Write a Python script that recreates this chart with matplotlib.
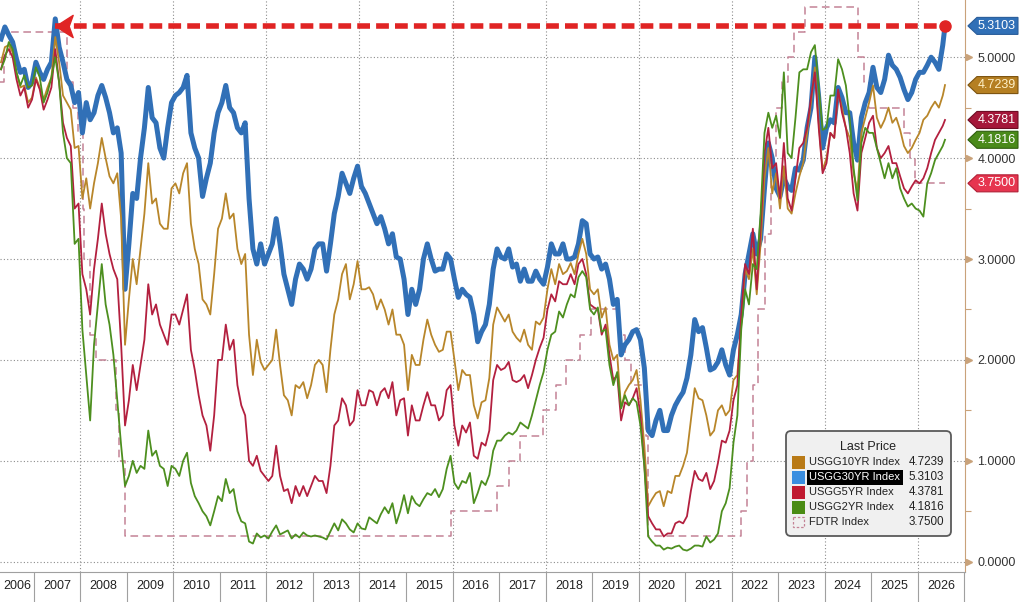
"""
Treasuries (2Y, 5Y, 10Y, 30Y) e Fed Funds (FDTR) - estilo terminal Bloomberg.
"""

import matplotlib
matplotlib.use("Agg")
import matplotlib.pyplot as plt
from matplotlib.patches import Polygon, FancyBboxPatch, Rectangle
from matplotlib.path import Path
from matplotlib.transforms import Affine2D, offset_copy
import numpy as np

plt.rcParams["font.family"] = ["Liberation Sans", "DejaVu Sans"]

# ── Dados (médias mensais, abr/2006 .. jul/2026, + último preço) ─────────────
first_month = 2006 + 3 / 12
last_date = 2026.59

usgg30 = [
    5.18, 5.30, 5.22, 5.15, 4.98, 4.85, 4.88, 4.70, 4.75,                # 2006
    4.95, 4.85, 4.78, 4.88, 4.95, 5.38, 5.10, 4.95, 4.78, 4.72, 4.55, 4.65,
    4.25, 4.55, 4.38, 4.45, 4.62, 4.72, 4.60, 4.45, 4.25, 4.30, 4.05, 2.70,
    3.15, 3.65, 3.60, 4.00, 4.30, 4.70, 4.40, 4.35, 4.10, 4.00, 4.30, 4.55,
    4.62, 4.65, 4.70, 4.82, 4.25, 4.10, 4.00, 3.62, 3.80, 3.95, 4.25, 4.45,
    4.55, 4.72, 4.50, 4.45, 4.30, 4.25, 4.35, 3.60, 3.10, 2.95, 3.15, 2.95,
    3.05, 3.15, 3.40, 3.15, 2.85, 2.70, 2.55, 2.80, 2.95, 2.90, 2.80, 2.90,
    3.10, 3.15, 3.15, 2.88, 3.15, 3.45, 3.62, 3.85, 3.75, 3.65, 3.80, 3.92,
    3.72, 3.65, 3.55, 3.45, 3.35, 3.42, 3.30, 3.15, 3.25, 3.02, 3.00, 2.80,
    2.45, 2.70, 2.55, 2.70, 3.00, 3.15, 3.00, 2.88, 2.90, 2.90, 3.05, 3.00,
    2.80, 2.62, 2.70, 2.65, 2.62, 2.45, 2.18, 2.28, 2.35, 2.55, 2.90, 3.10,
    3.02, 3.00, 3.10, 2.92, 2.95, 2.78, 2.90, 2.78, 2.78, 2.88, 2.80, 2.75,
    2.92, 3.15, 3.05, 3.05, 3.15, 3.00, 3.00, 3.02, 3.15, 3.38, 3.35, 3.05,
    3.00, 3.02, 2.90, 2.95, 2.80, 2.55, 2.60, 2.05, 2.15, 2.20, 2.28, 2.30,
    2.20, 1.92, 1.30, 1.25, 1.40, 1.50, 1.30, 1.30, 1.45, 1.55, 1.62, 1.68,
    1.82, 2.05, 2.40, 2.28, 2.32, 2.12, 1.90, 1.92, 1.98, 2.10, 1.95, 1.85,
    2.10, 2.25, 2.45, 2.85, 3.05, 3.25, 3.05, 3.20, 3.70, 4.15, 4.00, 3.70,
    3.62, 3.80, 3.72, 3.68, 3.90, 3.88, 3.98, 4.30, 4.50, 5.00, 4.60, 4.10,
    4.30, 4.38, 4.35, 4.70, 4.60, 4.45, 4.45, 4.15, 3.98, 4.40, 4.55, 4.65,
    4.90, 4.70, 4.65, 4.78, 5.02, 4.92, 4.88, 4.80, 4.68, 4.58, 4.65, 4.78,
    4.85, 4.85, 4.92, 5.00, 4.95, 4.88, 5.12,                            # 2026
    5.3103,
]

usgg10 = [
    4.95, 5.10, 5.12, 5.05, 4.85, 4.70, 4.72, 4.55, 4.60,
    4.80, 4.70, 4.58, 4.70, 4.80, 5.20, 4.95, 4.62, 4.55, 4.48, 4.10, 4.12,
    3.60, 3.80, 3.50, 3.75, 3.95, 4.20, 4.00, 3.82, 3.75, 3.85, 3.40, 2.15,
    2.60, 3.00, 2.75, 3.10, 3.45, 3.95, 3.55, 3.60, 3.35, 3.30, 3.30, 3.70,
    3.75, 3.65, 3.85, 3.95, 3.35, 3.10, 2.95, 2.60, 2.55, 2.45, 2.85, 3.30,
    3.40, 3.65, 3.40, 3.45, 3.10, 2.95, 3.05, 2.25, 1.85, 2.20, 1.98, 1.90,
    1.95, 2.00, 2.30, 1.95, 1.65, 1.60, 1.45, 1.75, 1.72, 1.78, 1.62, 1.75,
    1.95, 2.00, 1.95, 1.68, 2.10, 2.45, 2.60, 2.85, 2.95, 2.60, 2.75, 2.98,
    2.70, 2.70, 2.72, 2.65, 2.50, 2.60, 2.50, 2.35, 2.50, 2.25, 2.25, 2.15,
    1.70, 2.05, 1.95, 1.95, 2.20, 2.40, 2.25, 2.15, 2.08, 2.10, 2.28, 2.28,
    2.00, 1.70, 1.90, 1.85, 1.85, 1.55, 1.42, 1.58, 1.60, 1.82, 2.35, 2.52,
    2.45, 2.38, 2.45, 2.28, 2.22, 2.18, 2.30, 2.15, 2.10, 2.38, 2.35, 2.42,
    2.70, 2.90, 2.75, 2.95, 2.85, 2.88, 2.96, 2.85, 3.05, 3.20, 3.05, 2.70,
    2.65, 2.70, 2.42, 2.52, 2.15, 2.00, 2.05, 1.52, 1.68, 1.75, 1.80, 1.90,
    1.60, 1.15, 0.55, 0.62, 0.68, 0.70, 0.55, 0.70, 0.68, 0.85, 0.85, 0.95,
    1.08, 1.40, 1.72, 1.62, 1.60, 1.45, 1.25, 1.30, 1.50, 1.55, 1.45, 1.50,
    1.80, 1.85, 2.35, 2.90, 2.80, 3.10, 2.65, 3.15, 3.80, 4.10, 3.65, 3.85,
    3.50, 3.92, 3.50, 3.45, 3.65, 3.82, 3.95, 4.25, 4.55, 4.90, 4.35, 3.88,
    4.00, 4.25, 4.20, 4.65, 4.50, 4.30, 4.20, 3.85, 3.68, 4.25, 4.40, 4.55,
    4.72, 4.40, 4.30, 4.38, 4.50, 4.35, 4.40, 4.28, 4.12, 4.05, 4.10, 4.18,
    4.25, 4.38, 4.42, 4.50, 4.56, 4.50, 4.62,
    4.7239,
]

usgg5 = [
    4.88, 5.02, 5.08, 5.00, 4.78, 4.62, 4.70, 4.50, 4.58,
    4.78, 4.68, 4.48, 4.58, 4.70, 5.08, 4.75, 4.35, 4.20, 4.12, 3.50, 3.55,
    2.85, 2.70, 2.45, 2.90, 3.20, 3.55, 3.25, 3.05, 2.90, 2.80, 2.15, 1.35,
    1.60, 1.95, 1.70, 1.95, 2.20, 2.75, 2.45, 2.55, 2.35, 2.25, 2.15, 2.45,
    2.45, 2.35, 2.50, 2.65, 2.10, 1.90, 1.65, 1.45, 1.35, 1.10, 1.45, 2.00,
    2.00, 2.35, 2.10, 2.20, 1.75, 1.55, 1.45, 1.00, 0.95, 1.05, 0.90, 0.85,
    0.80, 0.85, 1.15, 0.85, 0.70, 0.72, 0.58, 0.75, 0.65, 0.75, 0.65, 0.75,
    0.85, 0.80, 0.80, 0.68, 0.95, 1.35, 1.40, 1.62, 1.55, 1.35, 1.40, 1.70,
    1.55, 1.55, 1.70, 1.68, 1.55, 1.68, 1.72, 1.62, 1.78, 1.45, 1.60, 1.62,
    1.25, 1.55, 1.40, 1.40, 1.55, 1.68, 1.55, 1.55, 1.40, 1.45, 1.70, 1.75,
    1.35, 1.15, 1.35, 1.28, 1.38, 1.05, 1.02, 1.18, 1.15, 1.30, 1.80, 1.95,
    1.90, 1.92, 1.98, 1.80, 1.78, 1.80, 1.85, 1.72, 1.85, 2.00, 2.12, 2.22,
    2.50, 2.65, 2.58, 2.78, 2.75, 2.75, 2.85, 2.75, 2.95, 3.00, 2.85, 2.55,
    2.52, 2.50, 2.25, 2.35, 2.05, 1.80, 1.85, 1.40, 1.58, 1.55, 1.62, 1.72,
    1.45, 0.95, 0.45, 0.38, 0.32, 0.32, 0.25, 0.28, 0.28, 0.38, 0.40, 0.38,
    0.45, 0.70, 0.90, 0.82, 0.80, 0.88, 0.72, 0.80, 0.98, 1.20, 1.18, 1.30,
    1.60, 1.75, 2.45, 2.95, 2.85, 3.30, 2.70, 3.30, 4.05, 4.30, 3.90, 3.95,
    3.60, 4.15, 3.60, 3.48, 3.80, 4.10, 4.15, 4.30, 4.60, 4.85, 4.30, 3.85,
    3.95, 4.25, 4.20, 4.68, 4.45, 4.30, 4.05, 3.65, 3.48, 4.05, 4.20, 4.35,
    4.42, 4.10, 4.00, 4.05, 4.12, 3.95, 3.95, 3.82, 3.70, 3.65, 3.72, 3.78,
    3.75, 3.80, 3.90, 4.05, 4.18, 4.25, 4.32,
    4.3781,
]

usgg2 = [
    4.88, 4.98, 5.15, 5.08, 4.85, 4.72, 4.82, 4.70, 4.72,
    4.90, 4.80, 4.55, 4.65, 4.80, 5.00, 4.75, 4.25, 4.00, 3.95, 3.15, 3.20,
    2.30, 1.85, 1.40, 2.15, 2.55, 2.95, 2.55, 2.35, 2.05, 1.60, 1.15, 0.75,
    0.85, 1.00, 0.88, 0.95, 0.92, 1.30, 1.05, 1.10, 0.95, 0.92, 0.75, 0.95,
    0.92, 0.85, 1.00, 1.08, 0.78, 0.65, 0.58, 0.50, 0.45, 0.36, 0.50, 0.65,
    0.60, 0.82, 0.68, 0.72, 0.50, 0.40, 0.38, 0.20, 0.18, 0.28, 0.24, 0.26,
    0.23, 0.30, 0.36, 0.27, 0.29, 0.31, 0.23, 0.27, 0.24, 0.29, 0.26, 0.25,
    0.26, 0.25, 0.24, 0.22, 0.30, 0.38, 0.31, 0.42, 0.38, 0.32, 0.29, 0.38,
    0.33, 0.32, 0.44, 0.41, 0.38, 0.47, 0.54, 0.48, 0.58, 0.38, 0.50, 0.66,
    0.48, 0.65, 0.58, 0.55, 0.62, 0.68, 0.66, 0.72, 0.64, 0.72, 0.92, 1.05,
    0.78, 0.72, 0.80, 0.78, 0.88, 0.58, 0.68, 0.80, 0.76, 0.86, 1.10, 1.20,
    1.20, 1.25, 1.28, 1.26, 1.30, 1.38, 1.35, 1.32, 1.45, 1.60, 1.75, 1.88,
    2.10, 2.25, 2.28, 2.48, 2.42, 2.55, 2.65, 2.62, 2.82, 2.88, 2.82, 2.50,
    2.45, 2.52, 2.28, 2.30, 1.95, 1.75, 1.88, 1.52, 1.65, 1.55, 1.62, 1.58,
    1.35, 0.95, 0.25, 0.20, 0.16, 0.16, 0.12, 0.14, 0.13, 0.15, 0.16, 0.12,
    0.11, 0.13, 0.16, 0.16, 0.15, 0.25, 0.19, 0.22, 0.28, 0.50, 0.58, 0.73,
    1.18, 1.45, 2.30, 2.70, 2.55, 2.95, 2.90, 3.45, 4.25, 4.45, 4.30, 4.42,
    4.20, 4.85, 4.05, 4.00, 4.40, 4.85, 4.88, 4.88, 5.05, 5.12, 4.70, 4.28,
    4.30, 4.62, 4.62, 4.98, 4.88, 4.72, 4.38, 3.90, 3.58, 4.15, 4.30, 4.25,
    4.25, 4.10, 3.95, 3.80, 3.95, 3.80, 3.90, 3.70, 3.60, 3.52, 3.55, 3.50,
    3.48, 3.42, 3.75, 3.85, 3.98, 4.05, 4.12,
    4.1816,
]

# Fed Funds (limite superior) - datas das decisões
fdtr_dates = [2006.27, 2006.36, 2006.49, 2007.71, 2007.83, 2007.94, 2008.06,
              2008.08, 2008.21, 2008.33, 2008.77, 2008.83, 2008.96, 2015.96,
              2016.95, 2017.21, 2017.45, 2017.95, 2018.22, 2018.45, 2018.74,
              2018.97, 2019.58, 2019.71, 2019.83, 2020.17, 2020.21, 2022.21,
              2022.34, 2022.46, 2022.57, 2022.72, 2022.84, 2022.96, 2023.09,
              2023.22, 2023.34, 2023.57, 2024.72, 2024.85, 2024.96, 2025.71,
              2025.83, 2025.94, 2026.59]
fdtr_level = [4.75, 5.00, 5.25, 4.75, 4.50, 4.25, 3.50, 3.00, 2.25, 2.00,
              1.50, 1.00, 0.25, 0.50, 0.75, 1.00, 1.25, 1.50, 1.75, 2.00,
              2.25, 2.50, 2.25, 2.00, 1.75, 1.25, 0.25, 0.50, 1.00, 1.75,
              2.50, 3.25, 4.00, 4.50, 4.75, 5.00, 5.25, 5.50, 5.00, 4.75,
              4.50, 4.25, 4.00, 3.75, 3.75]

years = list(range(2006, 2027))
year_edges = list(range(2007, 2028))
grid_years = list(range(2008, 2027, 2))
y_ticks = [0, 1, 2, 3, 4, 5]
y_minor = [0.5, 1.5, 2.5, 3.5, 4.5]

names = ["USGG10YR Index", "USGG30YR Index", "USGG5YR Index",
         "USGG2YR Index", "FDTR Index"]

# ── Cores ────────────────────────────────────────────────────────────────────
C30, C10, C5, C2 = "#3170b7", "#b8862a", "#b3203f", "#4d8f1f"
CFD = "#c48396"
RED = "#e02424"
TAN = "#c9a27a"
GRID = "#8c8c8c"

XMIN, XMAX = 2006.27, 2027.02

n_month = len(usgg30) - 1
t = list(first_month + (np.arange(n_month) + 0.5) / 12) + [last_date]

fig = plt.figure(figsize=(10.24, 6.02), dpi=100)
ax = fig.add_axes([0, 30 / 602, 965 / 1024, 572 / 602])
ax.set_xlim(XMIN, XMAX)
ax.set_ylim(-0.102, 5.567)

# grade pontilhada
for yr in grid_years:
    ax.axvline(yr, color=GRID, lw=0.8, ls=(0, (1, 2)), zorder=0)
ax.set_yticks(y_ticks)
ax.yaxis.grid(True, color=GRID, lw=0.8, ls=(0, (1, 2)), zorder=0)

# séries
ax.step(fdtr_dates, fdtr_level, where="post", color=CFD, lw=1.1,
        ls=(0, (5, 3)), zorder=2)
ax.plot(t, usgg30, color=C30, lw=3.6, solid_joinstyle="round", zorder=3)
ax.plot(t, usgg10, color=C10, lw=1.3, zorder=4)
ax.plot(t, usgg5, color=C5, lw=1.3, zorder=4)
ax.plot(t, usgg2, color=C2, lw=1.3, zorder=4)

# seta vermelha: último nível do 30Y até o pico de 2007
last30 = usgg30[-1]
idx_peak = max(i for i in range(n_month) if usgg30[i] >= last30)
ax.plot([t[idx_peak], t[-1]], [last30, last30], color=RED, lw=4.0,
        dashes=(2.3, 1.1), dash_capstyle="butt", zorder=6)
head = Path([(-0.78, 0), (0.78, 1.0), (0.42, 0), (0.78, -1.0), (-0.78, 0)],
            [Path.MOVETO, Path.LINETO, Path.LINETO, Path.LINETO, Path.CLOSEPOLY])
ax.plot([t[idx_peak]], [last30], marker=head, ms=16, color=RED, ls="none",
        transform=offset_copy(ax.transData, fig=fig, x=6.3, y=0, units="points"),
        zorder=7)
ax.plot([t[-1]], [last30], "o", ms=8, color=RED, zorder=7)

# eixo x: separadores por ano e rótulos centralizados na parte visível
ax.set_xticks(year_edges)
ax.set_xticklabels([])
label_pos = [(max(y, XMIN) + min(y + 1, XMAX)) / 2 for y in years]
ax.set_xticks(label_pos, minor=True)
ax.set_xticklabels([str(y) for y in years], minor=True)
ax.tick_params(axis="x", which="major", length=21.6, width=0.8, color="#a0a0a0")
ax.tick_params(axis="x", which="minor", length=0, pad=6, labelsize=9,
               labelcolor="#222222")

# eixo y à direita
ax.yaxis.tick_right()
ax.set_yticklabels([f"{v:.4f}" for v in y_ticks])
ax.set_yticks(y_minor, minor=True)
ax.tick_params(axis="y", which="major", length=0, pad=9, labelsize=9,
               labelcolor="#333333")
ax.tick_params(axis="y", which="minor", length=4, width=0.8, color=TAN)
ax.plot([1.004] * len(y_ticks), y_ticks, marker=">", ms=4.5, color=TAN,
        ls="none", transform=ax.get_yaxis_transform(), clip_on=False)

for s in ["top", "left"]:
    ax.spines[s].set_visible(False)
ax.spines["right"].set_color(TAN)
ax.spines["bottom"].set_color("#a0a0a0")
ax.spines["bottom"].set_linewidth(0.8)

# etiquetas do último valor
tags = [
    (usgg30[-1], C30, "#ffffff", "#2a5d9a"),
    (usgg10[-1], "#b57f22", "#fff1c8", "#7d5410"),
    (usgg5[-1], "#a5173a", "#ffffff", "#6e0d24"),
    (usgg2[-1], "#4a8a1a", "#ffffff", "#2f5e0e"),
    (fdtr_level[-1], "#e6354f", "#ffffff", "#b01e34"),
]
h = 8.5 / 100.9
x0, x1, x2 = 1.003, 1.0124, 1.0549
for val, face, tc, ec in tags:
    verts = [(x0, val), (x1, val + h), (x2, val + h), (x2, val - h), (x1, val - h)]
    ax.add_patch(Polygon(verts, closed=True, fc=face, ec=ec, lw=0.8,
                         transform=ax.get_yaxis_transform(), clip_on=False,
                         zorder=8))
    ax.text(1.0325, val, f"{val:.4f}", color=tc, fontsize=9, ha="center",
            va="center", transform=ax.get_yaxis_transform(), clip_on=False,
            zorder=9)

# legenda "Last Price" (coordenadas em pixels)
pxT = Affine2D().scale(1 / 1024, -1 / 602).translate(0, 1) + fig.transFigure
fig.patches.append(FancyBboxPatch((786, 431), 165, 105,
                                  boxstyle="round,pad=0,rounding_size=5",
                                  fc="#f0f0f0", ec="#5a5a5a", lw=1.3,
                                  transform=pxT, zorder=10))
fig.text(868, 447, "Last Price", transform=pxT, ha="center", va="center",
         fontsize=9, color="#222222", zorder=11)
last_vals = [usgg10[-1], usgg30[-1], usgg5[-1], usgg2[-1], fdtr_level[-1]]
sq_cols = ["#b97a16", "#3a8ee0", "#c01a30", "#4a8c14", None]
for i, (nm, val, sc) in enumerate(zip(names, last_vals, sq_cols)):
    yc = 462 + 15 * i
    if sc is not None:
        fig.patches.append(Rectangle((792, yc - 6.5), 13, 13, fc=sc, ec="none",
                                     transform=pxT, zorder=11))
    else:
        fig.patches.append(Rectangle((793, yc - 5), 11, 10, fill=False, ec=CFD,
                                     lw=0.9, ls=(0, (2, 1.5)), transform=pxT,
                                     zorder=11))
    txt_col = "#222222"
    if i == 1:
        fig.patches.append(Rectangle((807, yc - 7.5), 96, 15, fc="black",
                                     ec="none", transform=pxT, zorder=11))
        txt_col = "white"
    fig.text(809, yc, nm, transform=pxT, ha="left", va="center", fontsize=8.0,
             color=txt_col, zorder=12)
    fig.text(944, yc, f"{val:.4f}", transform=pxT, ha="right", va="center",
             fontsize=8.4, color="#222222", zorder=12)

fig.savefig("out.png", dpi=100, facecolor="white")
